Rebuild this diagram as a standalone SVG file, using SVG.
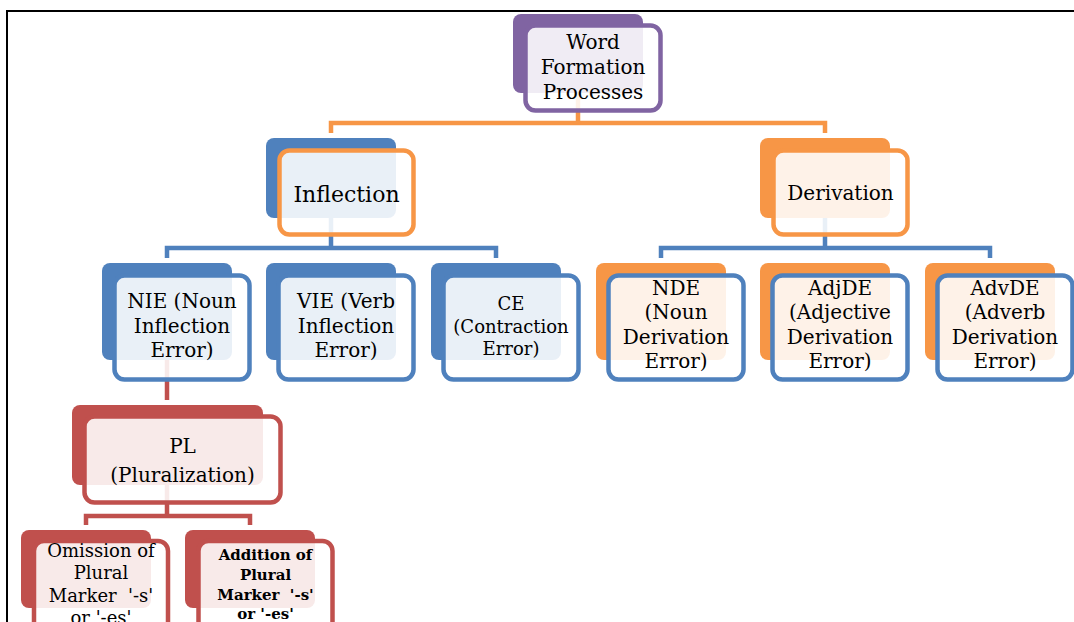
<svg xmlns="http://www.w3.org/2000/svg" width="1074" height="622" viewBox="0 0 1074 622">
<style>
text{font-family:"DejaVu Serif","Liberation Serif",serif;fill:#000;text-anchor:middle}
.back{stroke:none}
.front{fill:#fff;fill-opacity:0.88;stroke-width:4.5}
.conn path{fill:none;stroke-width:4.5;stroke-linejoin:miter}
.pu .back{fill:#8064A2}.pu .front{stroke:#8064A2}
.bl-b{fill:#4F81BD}.or-b{fill:#F79646}.rd-b{fill:#C0504D}
.bl-s{stroke:#4F81BD}.or-s{stroke:#F79646}.rd-s{stroke:#C0504D}
.f20{font-size:20px}.f22{font-size:22px}.f18{font-size:18px}.f15b{font-size:15px;font-weight:bold}
</style>
<rect x="0" y="0" width="1074" height="622" fill="#fff"/>
<path d="M7,622 V11 H1074" fill="none" stroke="#000" stroke-width="2"/>
<g id="connectors" class="conn">
<path d="M578,93 V123 M331,133 V123 H825 V133" stroke="#F79646"/>
<path d="M331,218 V248 M167,258 V248 H496 V258" stroke="#4F81BD"/>
<path d="M825,218 V248 M661,258 V248 H990 V258" stroke="#4F81BD"/>
<path d="M167,360 V400" stroke="#C0504D"/>
<path d="M167,485 V516 M86,525 V516 H250 V525" stroke="#C0504D"/>
</g>
<g id="n-word" class="pu">
<rect class="back" x="513" y="14" width="130" height="79" rx="8"/>
<rect class="front" x="525.5" y="25.5" width="135" height="85" rx="10"/>
<text class="f20" x="593" y="49">Word</text>
<text class="f20" x="593" y="74">Formation</text>
<text class="f20" x="593" y="99">Processes</text>
</g>
<g id="n-inflection">
<rect class="back bl-b" x="266" y="138" width="130" height="80" rx="8"/>
<rect class="front or-s" x="279.5" y="150.5" width="134" height="84" rx="10"/>
<text class="f22" x="346.5" y="201.5">Inflection</text>
</g>
<g id="n-derivation">
<rect class="back or-b" x="760" y="138" width="130" height="80" rx="8"/>
<rect class="front or-s" x="773.5" y="150.5" width="134" height="84" rx="10"/>
<text class="f20" x="840.5" y="200">Derivation</text>
</g>
<g id="n-nie">
<rect class="back bl-b" x="102" y="263" width="130" height="97" rx="8"/>
<rect class="front bl-s" x="114.5" y="275.5" width="135" height="104" rx="10"/>
<text class="f20" x="182" y="308">NIE (Noun</text>
<text class="f20" x="182" y="333">Inflection</text>
<text class="f20" x="182" y="357">Error)</text>
</g>
<g id="n-vie">
<rect class="back bl-b" x="266" y="263" width="130" height="97" rx="8"/>
<rect class="front bl-s" x="278.5" y="275.5" width="135" height="104" rx="10"/>
<text class="f20" x="346" y="308">VIE (Verb</text>
<text class="f20" x="346" y="333">Inflection</text>
<text class="f20" x="346" y="357">Error)</text>
</g>
<g id="n-ce">
<rect class="back bl-b" x="431" y="263" width="130" height="97" rx="8"/>
<rect class="front bl-s" x="443.5" y="275.5" width="135" height="104" rx="10"/>
<text class="f18" x="511" y="310">CE</text>
<text class="f18" x="511" y="333">(Contraction</text>
<text class="f18" x="511" y="355">Error)</text>
</g>
<g id="n-nde">
<rect class="back or-b" x="596" y="263" width="130" height="97" rx="8"/>
<rect class="front bl-s" x="608.5" y="275.5" width="135" height="104" rx="10"/>
<text class="f20" x="676" y="295">NDE</text>
<text class="f20" x="676" y="319">(Noun</text>
<text class="f20" x="676" y="344">Derivation</text>
<text class="f20" x="676" y="368">Error)</text>
</g>
<g id="n-adjde">
<rect class="back or-b" x="760" y="263" width="130" height="97" rx="8"/>
<rect class="front bl-s" x="772.5" y="275.5" width="135" height="104" rx="10"/>
<text class="f20" x="840" y="295">AdjDE</text>
<text class="f20" x="840" y="319">(Adjective</text>
<text class="f20" x="840" y="344">Derivation</text>
<text class="f20" x="840" y="368">Error)</text>
</g>
<g id="n-advde">
<rect class="back or-b" x="925" y="263" width="130" height="97" rx="8"/>
<rect class="front bl-s" x="937.5" y="275.5" width="135" height="104" rx="10"/>
<text class="f20" x="1005" y="295">AdvDE</text>
<text class="f20" x="1005" y="319">(Adverb</text>
<text class="f20" x="1005" y="344">Derivation</text>
<text class="f20" x="1005" y="368">Error)</text>
</g>
<g id="n-pl">
<rect class="back rd-b" x="72" y="405" width="191" height="80" rx="8"/>
<rect class="front rd-s" x="84.5" y="416.5" width="196" height="86" rx="10"/>
<text class="f20" x="182.5" y="453">PL</text>
<text class="f20" x="182.5" y="482">(Pluralization)</text>
</g>
<g id="n-omission">
<rect class="back rd-b" x="21" y="530" width="130" height="78" rx="8"/>
<rect class="front rd-s" x="34" y="541" width="134" height="100" rx="10"/>
<text class="f18" x="101" y="557">Omission of</text>
<text class="f18" x="101" y="579">Plural</text>
<text class="f18" x="101" y="602" xml:space="preserve">Marker  '-s'</text>
<text class="f18" x="101" y="624">or '-es'</text>
</g>
<g id="n-addition">
<rect class="back rd-b" x="185" y="530" width="130" height="78" rx="8"/>
<rect class="front rd-s" x="198.5" y="541" width="134" height="100" rx="10"/>
<text class="f15b" x="265.5" y="560">Addition of</text>
<text class="f15b" x="265.5" y="580">Plural</text>
<text class="f15b" x="265.5" y="600" xml:space="preserve">Marker  '-s'</text>
<text class="f15b" x="265.5" y="619">or '-es'</text>
</g>
</svg>
